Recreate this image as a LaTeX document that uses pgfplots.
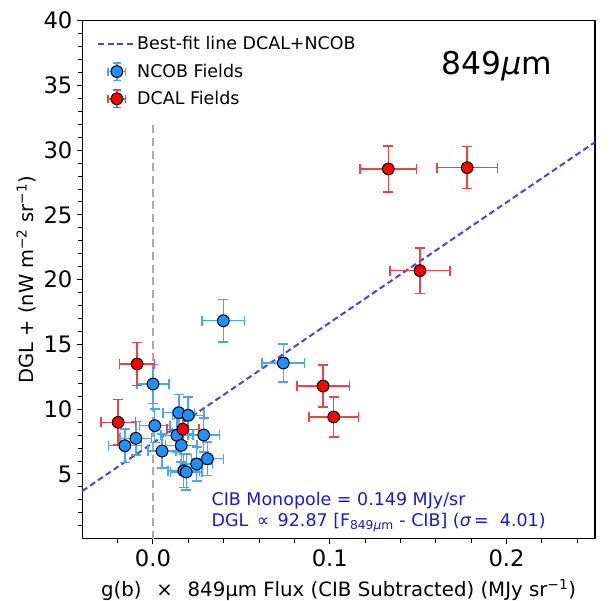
\documentclass[border=0pt]{standalone}
\usepackage{fontspec}
\setmainfont{DejaVu Sans}
\usepackage{pgfplots}
\pgfplotsset{compat=1.18}
\usepackage{pgfplotstable}

\definecolor{ncobblue}{RGB}{30,144,255}
\definecolor{errblue}{RGB}{75,165,240}
\definecolor{dcalred}{RGB}{255,0,0}
\definecolor{errred}{RGB}{228,70,70}
\definecolor{fitline}{RGB}{70,70,220}
\definecolor{annblue}{RGB}{25,25,205}
\definecolor{vgray}{RGB}{170,170,170}

\pgfplotstableread{
x        y      ex      ey
0.0398   16.83  0.012   1.63
0.0737   13.57  0.012   1.47
0.0000   11.95  0.009   1.50
0.0010   8.73   0.0085  1.30
0.0146   9.73   0.009   1.40
0.0199   9.53   0.009   1.40
0.0135   7.98   0.009   1.30
0.0287   8.01   0.009   1.30
0.0160   7.21   0.009   1.30
-0.0097  7.75   0.009   1.30
-0.0159  7.18   0.0094  1.30
0.0051   6.77   0.008   1.30
0.0308   6.18   0.009   1.30
0.0247   5.77   0.009   1.30
0.0174   5.25   0.009   1.30
0.0188   5.15   0.009   1.40
}\ncob

\pgfplotstableread{
x        y      ex      ey
0.1331   28.55  0.016   1.78
0.1777   28.65  0.017   1.62
0.1510   20.70  0.017   1.75
0.0962   11.79  0.0148  1.62
0.1022   9.40   0.014   1.54
-0.0090  13.49  0.0098  1.67
-0.0197  8.99   0.0098  1.75
0.0169   8.45   0.009   0.95
}\dcal

\begin{document}
\begin{tikzpicture}
\begin{axis}[
  name=ax,
  scale only axis,
  width=384.5pt, height=388.5pt,
  xmin=-0.04, xmax=0.25,
  ymin=0, ymax=40,
  axis line style={line width=0.8pt, black},
  tick align=outside,
  tick pos=left,
  major tick length=4.3pt,
  minor tick length=3pt,
  every tick/.style={black, line width=0.75pt},
  xtick={0,0.1,0.2},
  xticklabels={0.0,0.1,0.2},
  minor xtick={-0.02,0.02,0.04,0.06,0.08,0.12,0.14,0.16,0.18,0.22,0.24},
  ytick={5,10,15,20,25,30,35,40},
  yticklabels={5,10,15,20,25,30,35,40},
  minor ytick={1,2,3,4,6,7,8,9,11,12,13,14,16,17,18,19,21,22,23,24,26,27,28,29,31,32,33,34,36,37,38,39},
  tick label style={font=\fontsize{17}{17}\selectfont},
  xticklabel style={inner sep=4pt},
  yticklabel style={inner sep=2.9pt},
  xlabel={g(b)\hspace{0.75em}×\hspace{0.75em}849μm Flux (CIB Subtracted) (MJy sr\textsuperscript{−1})},
  ylabel={DGL + (nW m\textsuperscript{−2} sr\textsuperscript{−1})},
  every axis x label/.style={at={(axis description cs:0.5,0)}, anchor=base, yshift=-43pt, font=\fontsize{14.8}{14.8}\selectfont},
  every axis y label/.style={at={(axis description cs:-0.1092,0.5)}, rotate=90, anchor=center, font=\fontsize{14.6}{14.6}\selectfont},
  legend style={at={(axis description cs:0,1)}, anchor=north west, xshift=8pt, yshift=-7.8pt,
    draw=none, fill=none, font=\fontsize{13.1}{13.1}\selectfont,
    cells={anchor=west}, row sep=5pt,
    /tikz/every even column/.append style={column sep=13pt}},
]

\addplot[fitline, line width=1.5pt, dash pattern=on 4.5pt off 2.6pt,
  legend image code/.code={\draw[fitline, line width=1.5pt, dash pattern=on 4.5pt off 2.6pt] (0pt,0pt)--(26.5pt,0pt);}]
  coordinates {(-0.04,3.685) (0.25,30.62)};
\addlegendentry{Best-fit line DCAL+NCOB}

\addplot[vgray, line width=2pt, dash pattern=on 6pt off 3.5pt, forget plot]
  coordinates {(0,0) (0,32)};

\addplot[only marks, mark=*, mark size=4.4pt,
  mark options={draw=black, fill=ncobblue, line width=0.75pt},
  error bars/.cd, x dir=both, y dir=both, x explicit, y explicit,
  error bar style={errblue, line width=1.1pt},
  error mark options={errblue, line width=1.1pt, mark size=3.75pt, rotate=90},
  /pgfplots/legend image code/.code={
    \draw[errblue, line width=1.1pt] (14pt,-6.5pt)--(14pt,6.5pt) (7.5pt,0pt)--(20.5pt,0pt)
      (11pt,-6.5pt)--(17pt,-6.5pt) (11pt,6.5pt)--(17pt,6.5pt)
      (7.5pt,-3pt)--(7.5pt,3pt) (20.5pt,-3pt)--(20.5pt,3pt);
    \draw[black, fill=ncobblue, line width=0.75pt] (14pt,0pt) circle (4.4pt);}]
  table[x=x, y=y, x error=ex, y error=ey] {\ncob};
\addlegendentry{NCOB Fields}

\addplot[only marks, mark=*, mark size=4.4pt,
  mark options={draw=black, fill=dcalred, line width=0.75pt},
  error bars/.cd, x dir=both, y dir=both, x explicit, y explicit,
  error bar style={errred, line width=1.1pt},
  error mark options={errred, line width=1.1pt, mark size=3.75pt, rotate=90},
  /pgfplots/legend image code/.code={
    \draw[errred, line width=1.1pt] (14pt,-6.5pt)--(14pt,6.5pt) (7.5pt,0pt)--(20.5pt,0pt)
      (11pt,-6.5pt)--(17pt,-6.5pt) (11pt,6.5pt)--(17pt,6.5pt)
      (7.5pt,-3pt)--(7.5pt,3pt) (20.5pt,-3pt)--(20.5pt,3pt);
    \draw[black, fill=dcalred, line width=0.75pt] (14pt,0pt) circle (4.4pt);}]
  table[x=x, y=y, x error=ex, y error=ey] {\dcal};
\addlegendentry{DCAL Fields}

\node[anchor=base, font=\fontsize{23.5}{23.5}\selectfont] at (axis cs:0.1944,35.85) {849\textit{μ}m};
\node[anchor=base west, text=annblue, font=\fontsize{13.1}{13.1}\selectfont, inner sep=0pt] at (axis cs:0.033,2.6) {CIB Monopole = 0.149 MJy/sr};
\node[anchor=base west, text=annblue, font=\fontsize{13.1}{13.1}\selectfont, inner sep=0pt] at (axis cs:0.033,0.98) {DGL \,∝\, 92.87 [F\textsubscript{849\textit{μ}m} - CIB] (\textit{σ}\,=\ \ 4.01)};
\end{axis}
\pgfresetboundingbox
\path[use as bounding box] ([shift={(-61.7pt,-46pt)}]ax.south west) rectangle ([shift={(15pt,15.5pt)}]ax.north east);
\end{tikzpicture}
\end{document}
